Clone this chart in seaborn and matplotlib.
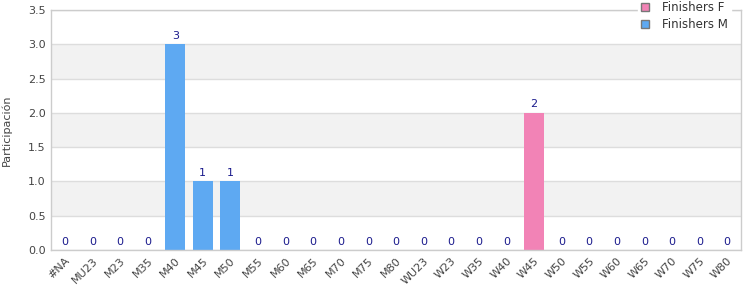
import matplotlib
matplotlib.use("Agg")
import matplotlib.pyplot as plt
import seaborn as sns
import pandas as pd
from matplotlib.patches import Patch

categories = ["#NA", "MU23", "M23", "M35", "M40", "M45", "M50", "M55", "M60", "M65",
              "M70", "M75", "M80", "WU23", "W23", "W35", "W40", "W45", "W50", "W55",
              "W60", "W65", "W70", "W75", "W80"]
finishers_f = [0, 0, 0, 0, 0, 0, 0, 0, 0, 0, 0, 0, 0, 0, 0, 0, 0, 2, 0, 0, 0, 0, 0, 0, 0]
finishers_m = [0, 0, 0, 0, 3, 1, 1, 0, 0, 0, 0, 0, 0, 0, 0, 0, 0, 0, 0, 0, 0, 0, 0, 0, 0]
series_names = ["Finishers F", "Finishers M"]
colors = {"Finishers F": "#F283B6", "Finishers M": "#5EA9F2"}
y_ticks = [0.0, 0.5, 1.0, 1.5, 2.0, 2.5, 3.0, 3.5]

df = pd.DataFrame({
    "cat": categories * 2,
    "val": finishers_f + finishers_m,
    "serie": [series_names[0]] * len(categories) + [series_names[1]] * len(categories),
})

sns.set_theme(style="white")
plt.rcParams['font.family'] = ['DejaVu Sans']

fig = plt.figure(figsize=(7.5, 3.0), dpi=100)
ax = fig.add_axes([0.068, 0.1667, 0.92, 0.80])

# alternating bands
for i in range(len(y_ticks) - 1):
    if i % 2 == 1:
        ax.axhspan(y_ticks[i], y_ticks[i + 1], color="#F2F2F2", zorder=0, lw=0)
for t in y_ticks:
    ax.axhline(t, color="#DDDDDD", lw=1, zorder=0.5)

sns.barplot(data=df, x="cat", y="val", hue="serie", hue_order=series_names,
            palette=colors, dodge=False, width=0.72, ax=ax, legend=False,
            saturation=1, zorder=2, linewidth=0, edgecolor="none")

totals = [f + m for f, m in zip(finishers_f, finishers_m)]
for i, t in enumerate(totals):
    ax.text(i, t + 0.05, f"{t}", ha="center", va="bottom", fontsize=8,
            color="#1A1A8C", zorder=3)

ax.set_ylim(0, 3.5)
ax.set_xlim(-0.5, len(categories) - 0.5)
ax.set_yticks(y_ticks)
ax.set_yticklabels([f"{t:.1f}" for t in y_ticks], fontsize=8, color="#444444")
ax.set_xticks(range(len(categories)))
ax.set_xticklabels(categories, rotation=45, ha="right", rotation_mode="anchor",
                   fontsize=8, color="#444444")
ax.tick_params(axis="both", length=0, pad=4)
ax.set_xlabel("")
ax.set_ylabel("Participación", fontsize=8, color="#444444")
ax.yaxis.set_label_coords(-0.056, 0.5)

for s in ax.spines.values():
    s.set_color("#CCCCCC")
    s.set_linewidth(1)

handles = [Patch(facecolor=colors[n], edgecolor="#777777", label=n) for n in series_names]
leg = fig.legend(handles=handles, loc="upper right", bbox_to_anchor=(0.982, 1.025),
                 frameon=True, fontsize=8.5, handlelength=0.7, handleheight=0.7,
                 labelspacing=0.35, borderpad=0.25, handletextpad=1.1)
leg.get_frame().set_edgecolor("white")
leg.get_frame().set_facecolor("white")
leg.get_frame().set_alpha(1)
leg.get_frame().set_boxstyle("square", pad=0.0)
for txt in leg.get_texts():
    txt.set_color("#333333")

fig.savefig("out.png", dpi=100)
